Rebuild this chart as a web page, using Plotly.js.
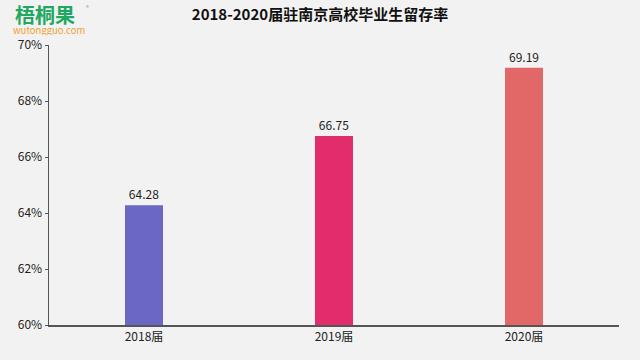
<!DOCTYPE html>
<html>
<head>
<meta charset="utf-8">
<script src="https://cdn.plot.ly/plotly-3.0.1.min.js"></script>
<style>html,body{margin:0;padding:0;background:#F2F2F2;}#chart{width:640px;height:360px;}</style>
</head>
<body>
<div id="chart"></div>
<script>
const categories = ['2018届', '2019届', '2020届'];
const values = [64.28, 66.75, 69.19];
const barColors = ['#6B67C4', '#E12D6B', '#E26767'];
const yTicks = [60, 62, 64, 66, 68, 70];
const yTickLabels = ['60%', '62%', '64%', '66%', '68%', '70%'];

const font = '"Noto Sans CJK SC", "Microsoft YaHei", sans-serif';

Plotly.newPlot('chart', [{
  type: 'bar',
  x: categories,
  y: values,
  marker: {color: barColors},
  text: values.map(v => v.toFixed(2)),
  textposition: 'outside',
  cliponaxis: false,
  textfont: {family: font, size: 12, color: '#222'},
  hoverinfo: 'none'
}], {
  width: 640, height: 360,
  paper_bgcolor: '#F2F2F2', plot_bgcolor: '#F2F2F2',
  margin: {l: 49, r: 21, t: 45, b: 35},
  bargap: 0.8,
  showlegend: false,
  title: {text: '<b>2018-2020届驻南京高校毕业生留存率</b>', x: 0.5, xanchor: 'center', y: 0.958, yanchor: 'middle',
          font: {family: font, size: 15, color: '#111'}},
  xaxis: {
    showline: true, linecolor: '#555', linewidth: 1.5, ticks: '',
    showgrid: false, zeroline: false,
    tickfont: {family: font, size: 12, color: '#222'}
  },
  yaxis: {
    range: [60, 70], tickvals: yTicks, ticktext: yTickLabels,
    showline: true, linecolor: '#555', linewidth: 1.5,
    ticks: 'outside', ticklen: 3, tickcolor: '#555',
    showgrid: false, zeroline: false,
    tickfont: {family: font, size: 12, color: '#222'}
  },
  annotations: [
    {text: '<b>梧桐果</b>', xref: 'paper', yref: 'paper', x: -0.063, y: 1.108, xanchor: 'left', yanchor: 'middle',
     height: 21, showarrow: false, font: {family: font, size: 20, color: '#1FA861'}},
    {text: '®', xref: 'paper', yref: 'paper', x: 0.062, y: 1.137, xanchor: 'left', yanchor: 'middle',
     height: 8, showarrow: false, font: {family: font, size: 6, color: '#999'}},
    {text: 'wutongguo.com', xref: 'paper', yref: 'paper', x: -0.066, y: 1.052, xanchor: 'left', yanchor: 'middle',
     height: 10, showarrow: false, font: {family: font, size: 9.5, color: '#F0A030'}}
  ]
}, {displayModeBar: false, staticPlot: true});
</script>
</body>
</html>
